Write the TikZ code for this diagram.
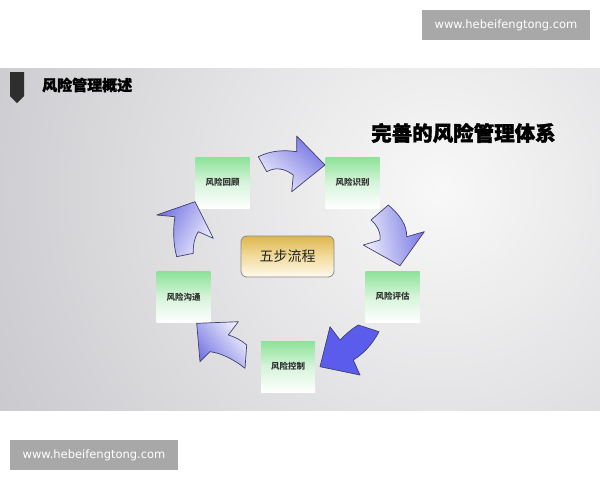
\documentclass[tikz,border=0pt]{standalone}
\usepackage{fontspec}
\newfontfamily\cjk{Noto Sans CJK SC}
\newfontfamily\cjkheavy{Noto Sans CJK SC}[BoldFeatures={FakeBold=1.6}]
\newfontfamily\wmfont{DejaVu Sans}
\definecolor{slideout}{RGB}{196,196,201}
\definecolor{slidein}{RGB}{248,248,248}
\definecolor{boxgreen}{RGB}{140,226,152}
\definecolor{boxgreenmid}{RGB}{214,244,218}
\definecolor{goldtop}{RGB}{222,182,78}
\definecolor{goldmid}{RGB}{242,220,158}
\definecolor{goldbot}{RGB}{255,250,238}
\definecolor{arrowdark}{RGB}{118,118,228}
\definecolor{arrowlight}{RGB}{240,240,252}
\definecolor{arrowline}{RGB}{64,64,110}
\definecolor{arrowsolid}{RGB}{92,92,236}
\definecolor{wmgray}{RGB}{168,168,168}

\begin{document}
\begin{tikzpicture}[x=1pt,y=1pt,yscale=-1,xscale=1,
  riskbox/.style={minimum width=54pt,minimum height=51pt,inner sep=0pt,
    top color=boxgreen,bottom color=white,middle color=boxgreenmid,
    font=\cjk\bfseries\fontsize{8.5}{10}\selectfont,text=black!80},
  stepsbox/.style={draw={rgb,255:red,138;green,138;blue,138},line width=0.8pt,
    rounded corners=6pt,minimum width=93pt,minimum height=41pt,inner sep=0pt,
    top color=goldtop,bottom color=goldbot,middle color=goldmid,
    font=\cjk\fontsize{14}{16}\selectfont,text=black!85},
  blockarrow/.style={draw=arrowline,line width=0.7pt,line join=round},
  wmbox/.style={fill=wmgray,minimum width=168pt,minimum height=30pt,inner sep=0pt,
    font=\wmfont\fontsize{11.5}{13}\selectfont,text=white}]
  \useasboundingbox (0,0) rectangle (600,480);
  \fill[white] (0,0) rectangle (600,480);

  %Shape: slide background
  \begin{scope}
    \clip (0,68) rectangle (600,410);
    \fill[slideout] (0,68) rectangle (600,410);
    \shade[inner color=slidein,outer color=slideout] (440,190) circle (560);
  \end{scope}

  %Shape: title marker
  \fill[black!82] (10,72) -- (24,72) -- (24,96) -- (17,103) -- (10,96) -- cycle;

  % Text Node
  \node[anchor=west,inner sep=0pt,font=\cjkheavy\bfseries\fontsize{15}{17}\selectfont] (title) at (42,85) {风险管理概述};
  % Text Node
  \node[anchor=west,inner sep=0pt,font=\cjkheavy\bfseries\fontsize{20.5}{23}\selectfont] (subtitle) at (371,133) {完善的风险管理体系};

  % Step boxes
  \node[riskbox] (review) at (222.5,182.5) {风险回顾};
  \node[riskbox] (identify) at (352.5,182.5) {风险识别};
  \node[riskbox] (assess) at (392.5,296.5) {风险评估};
  \node[riskbox] (control) at (288,366.5) {风险控制};
  \node[riskbox] (comm) at (183.5,297) {风险沟通};
  \node[stepsbox] (steps) at (287.5,256.5) {五步流程};

  %Shape: arrow review -> identify
  \shade[blockarrow,top color=arrowdark,bottom color=arrowlight,shading angle=-40]
    (258.3,156.7) .. controls (272,150) and (285,150) .. (296.7,151.7) -- (296.7,136)
    -- (325,165) -- (291.7,191.7) -- (293.3,175)
    .. controls (284,168) and (275,167) .. (266.7,171.7) -- cycle;
  %Shape: arrow identify -> assess
  \shade[blockarrow,top color=arrowdark,bottom color=arrowlight,shading angle=-80]
    (388.3,205) .. controls (400,215) and (407,225) .. (406.7,236.7) -- (424.3,231.7)
    -- (400,265.7) -- (363.3,245) -- (380,240)
    .. controls (381,232) and (377,225) .. (371,220) -- cycle;
  %Shape: arrow assess -> control
  \fill[blockarrow,fill=arrowsolid]
    (358.3,325) -- (379,331.7) .. controls (372,345) and (363,354) .. (353.3,360)
    -- (360,375) -- (320,366.7) -- (330,326.7) -- (340,340)
    .. controls (347,333) and (353,328) .. (358.3,325) -- cycle;
  %Shape: arrow control -> comm
  \shade[blockarrow,top color=arrowdark,bottom color=arrowlight,shading angle=130]
    (246.7,345) -- (245,368.3) .. controls (232,358) and (220,353) .. (210,351.7)
    -- (200,361.7) -- (196.7,323.3) -- (238.3,321.7) -- (228.3,335)
    .. controls (235,337) and (241,340) .. (246.7,345) -- cycle;
  %Shape: arrow comm -> review
  \shade[blockarrow,top color=arrowdark,bottom color=arrowlight,shading angle=60]
    (176.7,256.7) .. controls (173,243) and (173,228) .. (175,216.7) -- (156.7,215)
    -- (195,201.7) -- (213.3,238.3) -- (198.3,231.7)
    .. controls (194,238) and (193,246) .. (193.3,253.3) -- cycle;

  % Watermarks
  \node[wmbox] (wmtop) at (506,25) {www.hebeifengtong.com};
  \node[wmbox] (wmbottom) at (94,455) {www.hebeifengtong.com};
\end{tikzpicture}
\end{document}
